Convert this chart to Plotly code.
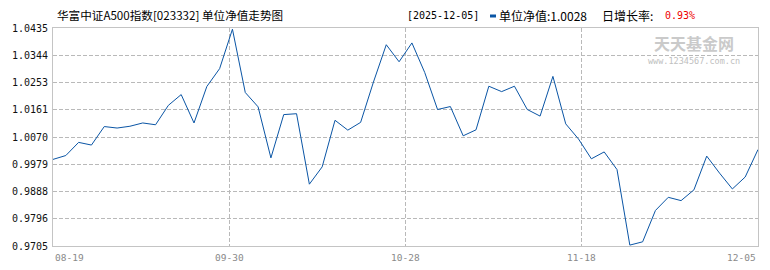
import plotly.graph_objects as go

# ---- data ----
dates = [
    "2025-08-19", "2025-08-22", "2025-08-25", "2025-08-28", "2025-09-01", "2025-09-04",
    "2025-09-08", "2025-09-11", "2025-09-15", "2025-09-18", "2025-09-22", "2025-09-24",
    "2025-09-26", "2025-09-29", "2025-09-30",
    "2025-10-09", "2025-10-10", "2025-10-13", "2025-10-14", "2025-10-15", "2025-10-16",
    "2025-10-17", "2025-10-20", "2025-10-21", "2025-10-22", "2025-10-23", "2025-10-24",
    "2025-10-27", "2025-10-28",
    "2025-10-29", "2025-10-30", "2025-11-03", "2025-11-04", "2025-11-05", "2025-11-06",
    "2025-11-07", "2025-11-10", "2025-11-11", "2025-11-12", "2025-11-13", "2025-11-14",
    "2025-11-17", "2025-11-18",
    "2025-11-19", "2025-11-20", "2025-11-21", "2025-11-24", "2025-11-25", "2025-11-26",
    "2025-11-27", "2025-11-28", "2025-12-01", "2025-12-02", "2025-12-03", "2025-12-04",
    "2025-12-05",
]
nav = [
    0.9995, 1.0008, 1.0052, 1.0043, 1.0105, 1.0100, 1.0106, 1.0117, 1.0111, 1.0176,
    1.0212, 1.0117, 1.0239, 1.0299, 1.0431, 1.0219, 1.0171, 1.0000, 1.0145, 1.0148,
    0.9912, 0.9970, 1.0126, 1.0093, 1.0119, 1.0254, 1.0379, 1.0322, 1.0385, 1.0286,
    1.0162, 1.0172, 1.0074, 1.0094, 1.0240, 1.0222, 1.0240, 1.0162, 1.0140, 1.0273,
    1.0114, 1.0063, 0.9997, 1.0020, 0.9961, 0.9708, 0.9719, 0.9824, 0.9868, 0.9857,
    0.9893, 1.0006, 0.9949, 0.9896, 0.9936, 1.0028,
]
y_ticks = [1.0435, 1.0344, 1.0253, 1.0161, 1.0070, 0.9979, 0.9888, 0.9796, 0.9705]
y_ticktext = ["1.0435", "1.0344", "1.0253", "1.0161", "1.0070", "0.9979", "0.9888", "0.9796", "0.9705"]
x_ticktext = ["08-19", "09-30", "10-28", "11-18", "12-05"]

title_text = "华富中证A500指数[023332] 单位净值走势图"
date_text = "[2025-12-05]"
nav_text = "单位净值:1.0028"
growth_label = "日增长率:"
growth_value = "0.93%"

# ---- layout geometry ----
W, H = 770, 270
L, R, T, B = 53, 12, 28, 24
PW, PH = W - L - R, H - T - B


def px(xp):
    return (xp - L) / PW


def py(yp):
    return (H - B - yp) / PH


n = len(nav)
idx = list(range(n))
last = n - 1
x_tickvals = [last * k / 4 for k in range(5)]

LINE_BLUE = "#0A55A5"
GRID = "#b9b9b9"
MONO = "DejaVu Sans Mono, monospace"
CJK = "Noto Sans CJK SC, sans-serif"

fig = go.Figure()
fig.add_trace(go.Scatter(
    x=idx, y=nav, customdata=dates, mode="lines",
    line=dict(color=LINE_BLUE, width=1),
    hovertemplate="%{customdata}: %{y:.4f}<extra></extra>",
    showlegend=False,
))

annotations = []
# x tick labels (first left-aligned, last right-aligned like the reference)
for k, (tv, tt) in enumerate(zip(x_tickvals, x_ticktext)):
    anchor = "left" if k == 0 else ("right" if k == len(x_tickvals) - 1 else "center")
    annotations.append(dict(
        x=tv, xref="x", y=py(257.5), yref="paper", text=tt, showarrow=False,
        xanchor=anchor, yanchor="middle",
        font=dict(family=MONO, size=9.5, color="#8a8a8a"),
    ))

# header texts
annotations += [
    dict(x=px(55), y=py(15), xref="paper", yref="paper", text=title_text, showarrow=False,
         xanchor="left", yanchor="middle", font=dict(family=CJK, size=11.6, color="#000000")),
    dict(x=px(405), y=py(15), xref="paper", yref="paper", text=date_text, showarrow=False,
         xanchor="left", yanchor="middle", font=dict(family=MONO, size=10, color="#000000")),
    dict(x=px(497), y=py(15), xref="paper", yref="paper", text=nav_text, showarrow=False,
         xanchor="left", yanchor="middle", font=dict(family=CJK, size=12, color="#000000")),
    dict(x=px(600), y=py(15), xref="paper", yref="paper", text=growth_label, showarrow=False,
         xanchor="left", yanchor="middle", font=dict(family=CJK, size=12, color="#000000")),
    dict(x=px(663), y=py(15), xref="paper", yref="paper", text=growth_value, showarrow=False,
         xanchor="left", yanchor="middle", font=dict(family=MONO, size=10, color="#ee0000")),
    # watermark
    dict(x=px(694), y=py(43), xref="paper", yref="paper", text="<b>天天基金网</b>", showarrow=False,
         xanchor="center", yanchor="middle", font=dict(family=CJK, size=16, color="#cacaca")),
    dict(x=px(694), y=py(61), xref="paper", yref="paper", text="www.1234567.com.cn", showarrow=False,
         xanchor="center", yanchor="middle", font=dict(family=MONO, size=8.5, color="#c0c0c0")),
]

shapes = [
    dict(type="rect", xref="paper", yref="paper",
         x0=px(490), x1=px(496), y0=py(17.5), y1=py(14.5),
         fillcolor=LINE_BLUE, line=dict(width=0)),
]

fig.update_layout(
    width=W, height=H,
    margin=dict(l=L, r=R, t=T, b=B, pad=0),
    paper_bgcolor="white", plot_bgcolor="white",
    annotations=annotations, shapes=shapes,
    showlegend=False,
)
fig.update_xaxes(
    range=[0, last], tickvals=x_tickvals, showticklabels=False,
    showgrid=True, gridcolor=GRID, griddash="4px,2px", gridwidth=1,
    showline=True, linecolor="#c4c4c4", linewidth=1, mirror=True,
    zeroline=False, ticks="",
)
fig.update_yaxes(
    range=[y_ticks[-1], y_ticks[0]], tickvals=y_ticks, ticktext=y_ticktext,
    tickfont=dict(family=MONO, size=10, color="#111111"),
    showgrid=True, gridcolor=GRID, griddash="4px,2px", gridwidth=1,
    showline=True, linecolor="#c4c4c4", linewidth=1, mirror=True,
    zeroline=False, ticks="", ticklabelstandoff=2,
)

fig.write_html("out.html")
